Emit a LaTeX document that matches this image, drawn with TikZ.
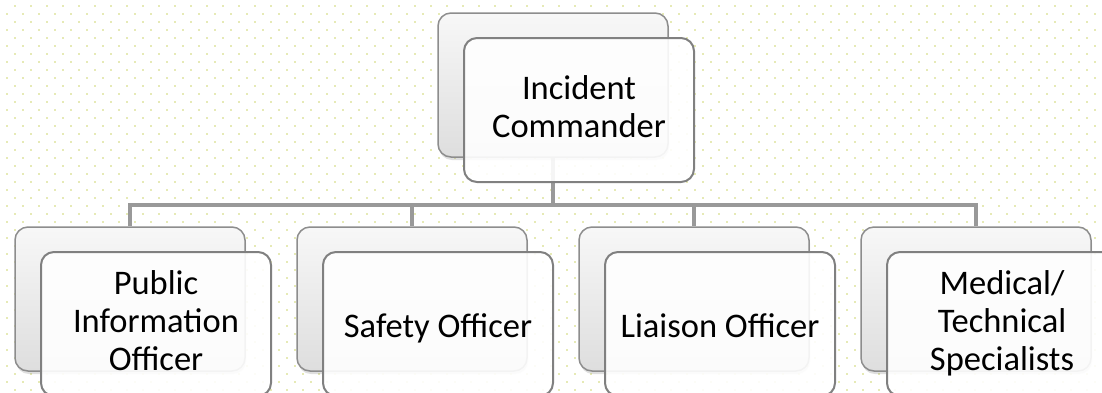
\documentclass[tikz,border=0pt]{standalone}
\usepackage{fontspec}
\setmainfont{Carlito}
\usetikzlibrary{shadows,backgrounds}
\definecolor{dotcol}{RGB}{230,234,182}
\definecolor{linecol}{RGB}{153,153,153}
\definecolor{edgecol}{RGB}{128,128,128}
\tikzset{
  backbox/.style={draw=edgecol!90, line width=1.5pt, rounded corners=13pt,
    minimum width=230pt, minimum height=144pt, top color=gray!6, bottom color=gray!26,
    drop shadow={shadow xshift=1pt, shadow yshift=-3pt, opacity=.25, fill=gray}},
  frontbox/.style={draw=edgecol, line width=2pt, rounded corners=13pt,
    minimum width=230pt, minimum height=144pt, fill=white, fill opacity=0.9, text opacity=1,
    align=center, font=\fontsize{34.5}{38}\selectfont,
    execute at begin node={\rule{0pt}{34pt}}, execute at end node={\rule[-7.5pt]{0pt}{7.5pt}}},
  bus/.style={draw=linecol, line width=4.5pt}
}
\begin{document}
\begin{tikzpicture}[x=1pt,y=-1pt]
      \useasboundingbox (0,0) rectangle (1102,392);
      \begin{scope}[on background layer]
        \fill[white] (0,0) rectangle (1102,392);
        \foreach \yy in {6,22,...,392}
          \foreach \xx in {15,31,...,1102}
            \fill[dotcol] (\xx-1,\yy-1) rectangle ++(2,2);
        \foreach \yy in {14,30,...,392}
          \foreach \xx in {7,23,...,1102}
            \fill[dotcol] (\xx-1,\yy-1) rectangle ++(2,2);
      \end{scope}
      \node[backbox] (backcmd) at (553,85) {};
      \node[frontbox] (cmd) at ([shift={(26,25)}]backcmd.center) {Incident\\Commander};
      \foreach \name/\x/\txt in {pio/130/{Public\\Information\\Officer},
          safety/412/{Safety Officer}, liaison/694/{Liaison Officer},
          medical/976/{Medical/\\Technical\\Specialists}} {
        \node[backbox] (back\name) at (\x,299) {};
        \node[frontbox] (\name) at ([shift={(26,25)}]back\name.center) {\txt};
      }
      \begin{scope}[on background layer]
        \coordinate (bus) at (553,205);
        \draw[bus] (backcmd.south) -- (bus);
        \foreach \name in {pio,safety,liaison,medical}
          \draw[bus] (bus) -| (back\name.north);
      \end{scope}
    \end{tikzpicture}
\end{document}
